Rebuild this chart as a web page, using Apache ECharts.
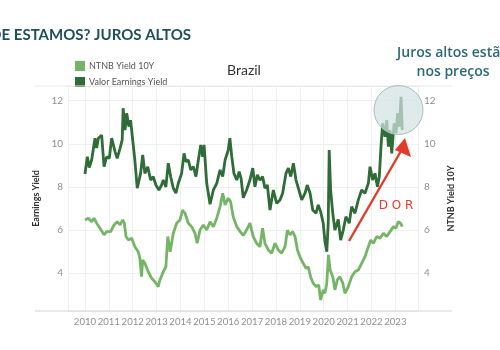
<!DOCTYPE html>
<html>
<head>
<meta charset="utf-8">
<script src="https://cdn.jsdelivr.net/npm/echarts@6/dist/echarts.min.js"></script>
<style>
  html, body { margin: 0; padding: 0; background: #fff; }
  #chart { width: 500px; height: 350px; }
</style>
</head>
<body>
<div id="chart"></div>
<script>
// ---- Data (decimal years, values in %) ----
const earnDates = [2010.00,2010.10,2010.18,2010.28,2010.42,2010.49,2010.56,2010.70,2010.80,2010.91,
  2011.02,2011.12,2011.26,2011.35,2011.47,2011.56,2011.60,2011.68,2011.75,2011.84,2011.91,
  2012.00,2012.09,2012.19,2012.33,2012.42,2012.51,2012.63,2012.75,2012.86,2012.97,
  2013.10,2013.21,2013.28,2013.39,2013.49,2013.59,2013.70,2013.81,2013.91,
  2014.05,2014.15,2014.23,2014.33,2014.43,2014.54,2014.65,2014.75,2014.85,2014.93,2014.99,
  2015.10,2015.24,2015.38,2015.52,2015.66,2015.77,2015.87,
  2016.00,2016.07,2016.15,2016.24,2016.36,2016.46,2016.54,2016.63,2016.77,2016.91,
  2017.03,2017.12,2017.22,2017.33,2017.44,2017.54,2017.64,2017.75,2017.89,
  2018.03,2018.17,2018.28,2018.42,2018.52,2018.62,2018.73,2018.84,2018.94,
  2019.08,2019.22,2019.31,2019.43,2019.54,2019.68,2019.77,2019.87,2019.98,
  2020.05,2020.13,2020.19,2020.23,2020.29,2020.38,2020.47,2020.61,2020.71,2020.82,2020.93,
  2021.07,2021.17,2021.31,2021.45,2021.59,2021.73,2021.87,2021.94,
  2022.05,2022.15,2022.25,2022.33,2022.40,2022.47,2022.57,2022.64,2022.71,2022.78,2022.85,2022.95,
  2023.03,2023.10,2023.17,2023.24,2023.29];
const earnValues = [8.6,9.4,8.9,9.25,10.26,9.8,10.26,10.4,8.94,9.4,
  9.33,10.26,9.64,9.33,9.79,10.18,11.65,10.64,11.42,10.8,11.1,
  10.18,9.25,7.94,8.63,9.48,8.63,8.94,8.32,8.48,8.09,
  7.86,8.09,8.32,8.0,9.1,8.48,7.94,7.71,8.17,
  8.63,9.56,9.17,9.25,8.79,8.94,8.48,9.25,9.95,9.4,9.95,
  8.17,7.2,7.86,8.17,8.79,8.48,9.25,
  9.71,10.26,9.4,8.63,8.32,8.71,8.4,7.5,7.86,8.32,
  8.87,8.01,8.56,8.32,8.48,7.94,8.09,6.93,7.86,
  7.24,7.4,7.71,8.63,8.87,8.48,9.1,8.32,7.94,
  7.4,7.71,8.09,7.71,6.93,6.78,7.17,6.86,6.32,
  5.5,5.0,6.32,9.71,7.86,6.78,6.0,6.5,5.54,6.0,6.62,
  6.32,7.09,6.78,7.4,7.86,7.71,8.17,8.94,
  8.32,8.63,8.01,8.48,9.87,10.95,10.33,11.1,9.87,10.64,9.56,10.95,
  10.49,11.42,10.8,12.18,10.64];

const ntnbDates = [2010.00,2010.14,2010.28,2010.38,2010.49,2010.63,2010.80,2010.91,
  2011.08,2011.22,2011.35,2011.47,2011.58,2011.65,2011.72,2011.82,2011.96,
  2012.09,2012.23,2012.30,2012.37,2012.42,2012.51,2012.65,2012.79,2012.93,
  2013.07,2013.14,2013.28,2013.39,2013.47,2013.57,2013.70,2013.84,2013.98,
  2014.09,2014.19,2014.33,2014.47,2014.61,2014.70,2014.82,2014.96,
  2015.10,2015.24,2015.38,2015.52,2015.66,2015.77,2015.87,
  2016.00,2016.10,2016.21,2016.36,2016.50,2016.63,2016.77,2016.91,
  2017.05,2017.19,2017.33,2017.44,2017.54,2017.68,2017.82,2017.96,
  2018.10,2018.24,2018.38,2018.48,2018.59,2018.70,2018.80,2018.90,
  2019.00,2019.14,2019.26,2019.35,2019.45,2019.56,2019.68,2019.79,2019.87,2019.98,
  2020.05,2020.13,2020.20,2020.27,2020.38,2020.47,2020.57,2020.68,2020.80,2020.89,
  2021.03,2021.17,2021.31,2021.45,2021.59,2021.73,2021.87,2021.97,
  2022.08,2022.22,2022.36,2022.50,2022.64,2022.78,2022.92,
  2023.03,2023.12,2023.22,2023.29];
const ntnbValues = [6.47,6.55,6.39,6.55,6.32,6.09,5.78,5.93,
  5.93,6.24,6.39,6.24,6.47,6.32,5.7,5.54,5.62,
  5.23,5.0,4.7,3.84,4.62,4.46,4.07,3.77,3.61,
  3.38,3.69,4.07,4.3,5.7,5.0,5.85,6.32,6.47,
  6.93,6.78,6.32,6.16,5.85,5.39,6.0,6.24,
  6.0,6.39,6.16,6.55,7.09,7.71,7.17,
  7.48,7.32,6.62,6.16,5.93,5.75,6.0,6.32,
  5.7,5.39,5.23,6.09,5.39,5.08,4.93,5.39,
  5.08,4.93,5.23,6.0,5.78,5.93,5.7,5.08,
  4.77,4.46,4.23,4.3,3.84,3.54,3.38,3.46,2.76,3.23,
  3.07,3.54,4.85,4.15,3.84,3.23,3.69,3.84,3.54,3.07,
  3.38,3.84,4.07,4.15,4.46,4.77,5.23,5.54,
  5.39,5.7,5.62,5.85,5.7,5.93,6.16,
  6.09,6.39,6.32,6.16];

const yearLabels = ['2010','2011','2012','2013','2014','2015','2016','2017','2018','2019','2020','2021','2022','2023'];
const yTickLabels = ['4','6','8','10','12'];
const seriesNames = ['NTNB Yield 10Y', 'Valor Earnings Yield'];

const LIGHT = '#74b566';
const DARK = '#2f6c37';
const FONT = 'Lato, "Open Sans", sans-serif';

const chart = echarts.init(document.getElementById('chart'), null, { renderer: 'canvas' });

const yLabelFmt = v => {
  const s = String(Math.round(v));
  return (Math.abs(v - Math.round(v)) < 1e-6 && yTickLabels.includes(s)) ? s : '';
};
const xLabelFmt = v => {
  const s = String(Math.round(v));
  return (Math.abs(v - Math.round(v)) < 1e-6 && yearLabels.includes(s)) ? s : '';
};

const yAxisBase = {
  type: 'value', min: 2.25, max: 12.68, minInterval: 2, maxInterval: 2,
  axisLine: { show: false }, axisTick: { show: false },
  nameLocation: 'middle', nameRotate: 90,
  nameTextStyle: { fontSize: 9, color: '#333', fontFamily: FONT, fontWeight: 'bold' },
  axisLabel: { formatter: yLabelFmt, color: '#8f8f8f', fontSize: 10, fontFamily: FONT }
};

chart.setOption({
  animation: false,
  backgroundColor: '#fff',
  grid: { left: 68, right: 82, top: 86, bottom: 39 },
  legend: {
    orient: 'vertical', left: 70, top: 56, itemWidth: 10, itemHeight: 10, itemGap: 6,
    icon: 'rect',
    data: seriesNames,
    textStyle: { fontSize: 9, color: '#555', fontFamily: FONT, padding: [0, 0, 0, -1] }
  },
  xAxis: {
    type: 'value', min: 2009.29, max: 2023.95, minInterval: 1, maxInterval: 1,
    axisLine: { show: false }, axisTick: { show: false },
    splitLine: { show: true, lineStyle: { color: '#efefef', width: 1 } },
    axisLabel: { formatter: xLabelFmt, color: '#8f8f8f', fontSize: 9.6, fontFamily: FONT, margin: 6,
      showMinLabel: true, showMaxLabel: true, hideOverlap: false, interval: 0 }
  },
  yAxis: [
    Object.assign({}, yAxisBase, {
      position: 'left', name: 'Earnings Yield', nameGap: 16,
      splitLine: { show: true, lineStyle: { color: '#efefef' } },
      axisLabel: Object.assign({}, yAxisBase.axisLabel, { margin: 5 })
    }),
    Object.assign({}, yAxisBase, {
      position: 'right', name: 'NTNB Yield 10Y', nameGap: 20,
      splitLine: { show: false },
      axisLabel: Object.assign({}, yAxisBase.axisLabel, { margin: 6 })
    })
  ],
  series: [
    {
      name: seriesNames[0], type: 'line', yAxisIndex: 1, showSymbol: false,
      color: LIGHT, lineStyle: { color: LIGHT, width: 2.8 },
      data: ntnbDates.map((d, i) => [d, ntnbValues[i]])
    },
    {
      name: seriesNames[1], type: 'line', yAxisIndex: 0, showSymbol: false,
      color: DARK, lineStyle: { color: DARK, width: 2.8 },
      data: earnDates.map((d, i) => [d, earnValues[i]])
    }
  ],
  graphic: [
    { type: 'line', z: 50, shape: { x1: 35, y1: 86, x2: 452, y2: 86 }, style: { stroke: '#e6e6e6', lineWidth: 1 } },
    { type: 'line', z: 50, shape: { x1: 35, y1: 311, x2: 452, y2: 311 }, style: { stroke: '#d6d6d6', lineWidth: 1.2 } },
    { type: 'text', z: 50, x: 191, y: 35, style: { text: 'ONDE ESTAMOS? JUROS ALTOS', align: 'right', verticalAlign: 'middle',
      font: 'bold 15px Lato, "Open Sans", sans-serif', fill: '#1f4f5c' } },
    { type: 'text', z: 50, x: 244, y: 70, style: { text: 'Brazil', align: 'center', verticalAlign: 'middle',
      font: '14px Lato, "Open Sans", sans-serif', fill: '#333' } },
    { type: 'text', z: 50, x: 453, y: 53, style: { text: 'Juros altos estão', align: 'center', verticalAlign: 'middle',
      font: '600 14px "Open Sans", Lato, sans-serif', fill: '#2d6a78' } },
    { type: 'text', z: 50, x: 453, y: 72, style: { text: 'nos preços', align: 'center', verticalAlign: 'middle',
      font: '600 14px "Open Sans", Lato, sans-serif', fill: '#2d6a78' } },
    { type: 'circle', z: 100, shape: { cx: 398.5, cy: 110, r: 24.5 },
      style: { fill: 'rgba(210,226,226,0.72)', stroke: '#a4c2c2', lineWidth: 1 } },
    { type: 'line', z: 100, shape: { x1: 349, y1: 241, x2: 401, y2: 151 },
      style: { stroke: '#e53a2a', lineWidth: 2.4 } },
    { type: 'polygon', z: 100, shape: { points: [[395, 150], [405, 138], [411, 157]] },
      style: { fill: '#e53a2a' } },
    { type: 'text', z: 100, x: 396, y: 206, style: { text: 'D O R', align: 'center', verticalAlign: 'middle',
      font: '12px "DejaVu Sans", sans-serif', fill: '#e53a2a' } }
  ]
});
</script>
</body>
</html>
